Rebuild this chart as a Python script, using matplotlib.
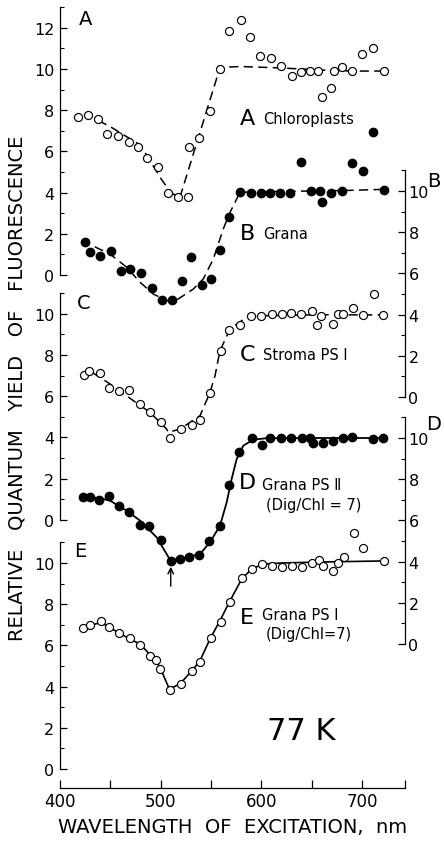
import matplotlib
matplotlib.use("Agg")
import matplotlib.pyplot as plt

# Excitation spectra at 77 K. Wavelengths in nm; each trace is in the units
# of its own ordinate (A, C, E on the left scales, B and D on the right).

# A  Chloroplasts (open circles, dashed guide)
A_NM = [417.6, 428.1, 438.1, 447.0, 457.6, 468.2, 477.5, 486.8, 497.3, 507.0,
        516.9, 526.8, 528.1, 538.4, 549.3, 558.9, 568.2, 579.5, 588.4, 598.4,
        609.6, 619.5, 630.5, 639.7, 648.0, 656.3, 659.9, 669.2, 672.5, 680.4,
        689.7, 700.0, 710.6, 722.1]
A_Y = [7.65, 7.77, 7.57, 6.84, 6.76, 6.47, 6.23, 5.70, 5.23, 3.98,
       3.78, 3.80, 6.23, 6.65, 7.98, 10.00, 11.86, 12.38, 11.54, 10.62,
       10.53, 10.13, 9.64, 9.87, 9.88, 9.88, 8.66, 9.06, 9.92, 10.08,
       9.90, 10.73, 11.00, 9.88]
A_FIT_NM = [438, 450, 460, 470, 480, 490, 500, 510, 519, 559, 580, 620, 660, 690, 722]
A_FIT_Y = [7.5, 7.2, 6.9, 6.6, 6.3, 5.5, 4.7, 4.0, 3.75, 10.08, 10.12, 10.05, 9.95, 9.9, 9.9]

# B  Grana (filled circles, dashed guide)
B_NM = [424.8, 429.8, 439.7, 450.7, 460.3, 469.5, 480.2, 491.1, 501.0, 511.0,
        521.5, 530.1, 540.8, 549.7, 558.9, 568.2, 578.8, 589.4, 599.4, 608.6,
        618.5, 628.5, 639.4, 649.3, 658.3, 659.9, 669.2, 679.8, 689.7, 701.3,
        711.3, 721.8]
B_Y = [7.54, 7.02, 6.86, 7.10, 6.10, 6.21, 6.00, 5.28, 4.71, 4.71,
       5.62, 6.81, 5.44, 5.73, 7.14, 8.72, 9.94, 9.89, 9.89, 9.89,
       9.89, 9.89, 11.39, 10.02, 10.02, 9.48, 9.89, 9.99, 11.34, 10.99,
       12.88, 10.05]
B_FIT_NM = [421.5, 449.7, 466.2, 479.5, 492.7, 506.0, 515.9, 532.4, 542.3, 552.3,
            562.2, 569.0, 578.8, 620, 680, 722]
B_FIT_Y = [7.59, 6.94, 6.30, 5.57, 5.00, 4.68, 4.71, 5.24, 5.73, 6.70,
           8.16, 8.97, 9.94, 9.98, 10.02, 10.08]

# C  Stroma PS I (open circles, dashed guide)
C_NM = [424.2, 429.1, 439.7, 448.4, 458.3, 468.8, 479.4, 489.4, 500.3, 509.3,
        519.9, 531.4, 539.4, 549.0, 559.6, 568.2, 578.8, 589.4, 599.4, 610.3,
        620.2, 629.5, 639.4, 650.1, 655.6, 659.3, 670.9, 675.8, 681.5, 691.4,
        701.3, 712.2, 720.5]
C_Y = [7.02, 7.20, 7.12, 6.38, 6.23, 6.30, 5.62, 5.21, 4.73, 3.97,
       4.40, 4.60, 4.85, 6.15, 8.21, 9.22, 9.45, 9.90, 9.90, 9.99,
       9.99, 10.03, 9.99, 10.15, 9.47, 9.90, 9.50, 9.99, 10.00, 10.26,
       9.93, 10.96, 9.93]
C_FIT_NM = [432, 449.7, 472.8, 489.4, 505.9, 507.6, 519.2, 539.1, 549.0, 554.0,
            558.9, 568.9, 585.5, 598.7, 660, 722]
C_FIT_Y = [7.15, 6.59, 5.78, 5.21, 4.40, 4.24, 4.40, 5.05, 6.18, 6.99,
           8.20, 9.26, 9.83, 9.90, 9.95, 9.94]

# D  Grana PS II, Dig/Chl = 7 (filled circles, solid curve)
D_NM = [423.2, 429.8, 439.0, 448.7, 458.6, 468.8, 479.4, 488.4, 500.0, 510.0,
        519.2, 528.4, 538.1, 548.3, 558.9, 568.2, 578.1, 590.4, 600.3, 608.6,
        619.5, 629.5, 640.0, 648.3, 651.6, 660.9, 670.9, 680.8, 689.7, 711.3,
        721.2]
D_Y = [7.15, 7.12, 7.01, 7.17, 6.68, 6.39, 5.79, 5.74, 5.05, 4.04,
       4.13, 4.21, 4.32, 5.01, 5.74, 7.72, 9.30, 9.99, 9.68, 9.99,
       9.99, 9.99, 9.99, 9.99, 9.76, 9.76, 9.87, 9.99, 10.06, 9.95,
       9.99]
D_FIT_NM = [423.2, 439.0, 449.7, 466.2, 479.5, 496.0, 509.3, 519.2, 539.1, 549.0,
            558.9, 565.6, 570.5, 575.5, 582.1, 592.0, 605.3, 660, 722]
D_FIT_Y = [7.15, 7.08, 6.96, 6.47, 5.99, 5.18, 4.09, 4.13, 4.37, 4.94,
           5.74, 6.88, 8.01, 8.98, 9.63, 9.92, 9.99, 10.0, 10.0]

# E  Grana PS I, Dig/Chl = 7 (open circles, solid curve)
E_NM = [423.2, 429.8, 440.4, 449.0, 458.9, 469.5, 479.4, 489.4, 495.1, 499.3,
        509.3, 519.9, 530.8, 539.1, 549.7, 559.6, 568.9, 580.5, 590.4, 600.3,
        610.9, 620.2, 630.2, 640.7, 650.0, 657.6, 661.6, 671.5, 676.5, 682.1,
        692.4, 701.3, 722.1]
E_Y = [6.84, 6.99, 7.17, 6.91, 6.60, 6.34, 6.02, 5.50, 5.29, 4.85,
       3.83, 4.13, 4.74, 5.18, 6.34, 7.15, 8.12, 9.27, 9.71, 9.95,
       9.84, 9.82, 9.87, 9.82, 9.98, 10.16, 9.87, 9.60, 10.00, 10.31,
       11.44, 10.73, 10.11]
E_FIT_NM = [423.2, 440.4, 458.9, 469.5, 479.5, 489.4, 495.1, 499.3, 508.6, 519.2,
            532.4, 539.1, 549.0, 558.9, 568.9, 580.5, 590.4, 602.0, 620, 660, 722]
E_FIT_Y = [6.85, 7.12, 6.60, 6.30, 6.07, 5.55, 5.25, 4.94, 3.88, 4.13,
           4.85, 5.26, 6.31, 7.20, 8.17, 9.22, 9.71, 9.95, 10.0, 10.05, 10.1]

X_MAJOR = [400, 500, 600, 700]
X_MINOR = [450, 550, 650]

# layout in pixels
FIG_W, FIG_H = 444, 845
LEFT_PX, RIGHT_PX = 60, 405
TOP_PX, BOTTOM_PX = 0, 789
UNIT_PX = 20.6
XMIN, XMAX = 400, 742.7

plt.rcParams["font.family"] = "DejaVu Sans"

fig = plt.figure(figsize=(FIG_W / 100, FIG_H / 100), dpi=100)
rect = [LEFT_PX / FIG_W, 1 - BOTTOM_PX / FIG_H,
        (RIGHT_PX - LEFT_PX) / FIG_W, (BOTTOM_PX - TOP_PX) / FIG_H]

base = fig.add_axes(rect, label="base")
base.set_xlim(XMIN, XMAX)
base.set_ylim(0, 1)
for side in ("left", "right", "top"):
    base.spines[side].set_visible(False)
base.spines["bottom"].set_linewidth(0.9)
base.set_yticks([])
base.set_xticks(X_MAJOR)
base.set_xticks(X_MINOR + [XMAX], minor=True)
base.tick_params(axis="x", which="both", direction="in", length=5.5, width=0.9,
                 labelsize=12, pad=3)


def panel_axes(name, zero_px, side, top_val):
    ax = fig.add_axes(rect, label=name, sharex=base)
    ax.set_ylim((zero_px - BOTTOM_PX) / UNIT_PX, (zero_px - TOP_PX) / UNIT_PX)
    ax.patch.set_visible(False)
    for sp in ax.spines.values():
        sp.set_visible(False)
    spine = ax.spines[side]
    spine.set_visible(True)
    spine.set_bounds(0, top_val)
    spine.set_linewidth(0.9)
    ax.yaxis.set_ticks_position(side)
    ax.set_yticks(range(0, top_val + 1, 2))
    ax.set_yticks(range(0, top_val + 1), minor=True)
    ax.tick_params(axis="y", which="major", direction="in", length=5, width=0.9,
                   labelsize=11.5, pad=4 if side == "left" else 2.5)
    ax.tick_params(axis="y", which="minor", direction="in", length=3, width=0.8)
    ax.tick_params(axis="x", which="both", bottom=False, labelbottom=False)
    return ax


ax_a = panel_axes("A", 276, "left", 13)
ax_b = panel_axes("B", 398, "right", 11)
ax_c = panel_axes("C", 520.7, "left", 11)
ax_d = panel_axes("D", 645, "right", 11)
ax_e = panel_axes("E", 770, "left", 11)

dash = (0, (6, 3.5))
open_kw = dict(marker="o", ms=5.8, mfc="white", mec="black", mew=0.85, ls="none", zorder=3)
fill_kw = dict(marker="o", ms=6.0, mfc="black", mec="black", ls="none", zorder=3)

ax_a.plot(A_FIT_NM, A_FIT_Y, color="black", lw=1.1, ls=dash)
ax_a.plot(A_NM, A_Y, **open_kw)
ax_b.plot(B_FIT_NM, B_FIT_Y, color="black", lw=1.1, ls=dash)
ax_b.plot(B_NM, B_Y, **fill_kw)
ax_c.plot(C_FIT_NM, C_FIT_Y, color="black", lw=1.1, ls=dash)
ax_c.plot(C_NM, C_Y, **open_kw)
ax_d.plot(D_FIT_NM, D_FIT_Y, color="black", lw=1.3)
ax_d.plot(D_NM, D_Y, **fill_kw)
ax_e.plot(E_FIT_NM, E_FIT_Y, color="black", lw=1.2)
ax_e.plot(E_NM, E_Y, **open_kw)

# panel letters on the ordinate scales
ax_a.text(425.3, 12.43, "A", fontsize=14, ha="center", va="center")
ax_c.text(423.3, 10.54, "C", fontsize=14, ha="center", va="center")
ax_e.text(420.4, 10.6, "E", fontsize=14, ha="center", va="center")
ax_b.text(771, 10.53, "B", fontsize=14, ha="center", va="center", clip_on=False)
ax_d.text(771, 10.68, "D", fontsize=14, ha="center", va="center", clip_on=False)

# trace captions
ax_a.text(585.8, 7.62, "A", fontsize=16, ha="center", va="center")
ax_a.text(601.5, 7.62, "Chloroplasts", fontsize=10.5, ha="left", va="center")
ax_b.text(585.8, 7.96, "B", fontsize=16, ha="center", va="center")
ax_b.text(601.5, 7.96, "Grana", fontsize=10.5, ha="left", va="center")
ax_c.text(586.7, 8.04, "C", fontsize=16, ha="center", va="center")
ax_c.text(602.0, 8.04, "Stroma PS \u2160", fontsize=10.5, ha="left", va="center")
ax_d.text(585.8, 7.86, "D", fontsize=16, ha="center", va="center")
ax_d.text(600.5, 7.72, "Grana PS \u2161", fontsize=10.5, ha="left", va="center")
ax_d.text(604.5, 6.75, "(Dig/Chl = 7)", fontsize=10.5, ha="left", va="center")
ax_e.text(585.8, 7.38, "E", fontsize=16, ha="center", va="center")
ax_e.text(600.5, 7.48, "Grana PS \u2160", fontsize=10.5, ha="left", va="center")
ax_e.text(604.5, 6.6, "(Dig/Chl=7)", fontsize=10.5, ha="left", va="center")
ax_e.text(639.4, 1.89, "77 K", fontsize=22, ha="center", va="center")

# marker for the 510 nm band
ax_e.annotate("", xy=(510, 9.95), xytext=(510, 8.74),
              arrowprops=dict(arrowstyle="->", color="black", lw=1.0))

base.set_xlabel("WAVELENGTH  OF  EXCITATION,  nm", fontsize=14, labelpad=5)
fig.text(17 / FIG_W, 1 - 388 / FIG_H,
         "RELATIVE   QUANTUM   YIELD   OF   FLUORESCENCE",
         rotation=90, fontsize=14, ha="center", va="center")

fig.savefig("out.png", dpi=100)
